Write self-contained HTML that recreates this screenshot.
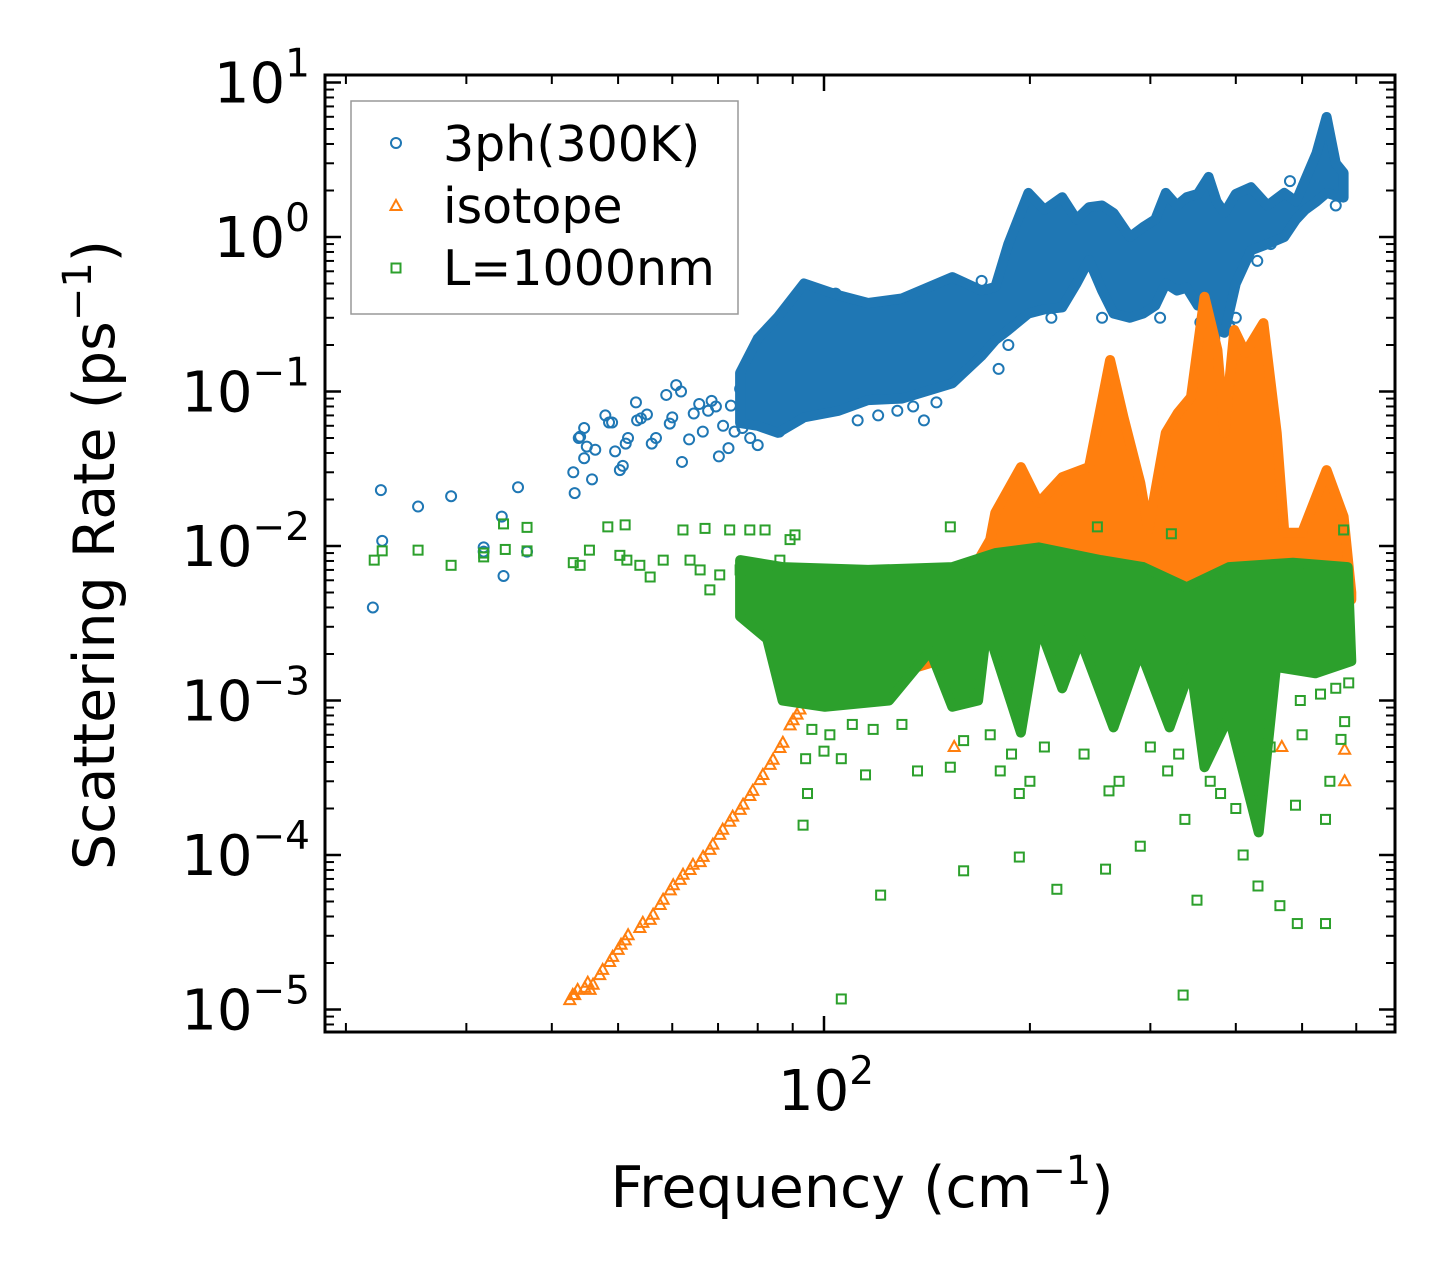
<!DOCTYPE html>
<html><head><meta charset="utf-8"><style>
body{margin:0;background:#fff;}
svg{display:block;font-family:"DejaVu Sans","Liberation Sans",sans-serif;}
</style></head><body>
<svg id="chart" width="1455" height="1282" viewBox="0 0 1455 1282" xmlns="http://www.w3.org/2000/svg">
<rect width="1455" height="1282" fill="#fff"/>
<g id="marks"></g>
<g id="axes"></g>
<text x="862" y="1207" font-size="57" text-anchor="middle">Frequency (cm<tspan dy="-23" font-size="40">−1</tspan><tspan dy="23">)</tspan></text>
<text transform="translate(114,555) rotate(-90)" font-size="57" text-anchor="middle">Scattering Rate (ps<tspan dy="-23" font-size="40">−1</tspan><tspan dy="23">)</tspan></text>
<g>
<rect x="351" y="101" width="387" height="213" fill="#fff" stroke="#999" stroke-width="1.5"/>
<circle cx="396" cy="143" r="5" fill="none" stroke="#1f77b4" stroke-width="2"/>
<text x="443" y="161" font-size="49">3ph(300K)</text>
<path d="M396,200 L401.5,210 L390.5,210 Z" fill="none" stroke="#ff7f0e" stroke-width="2"/>
<text x="443" y="223" font-size="49">isotope</text>
<rect x="391.5" y="263.5" width="9" height="9" fill="none" stroke="#2ca02c" stroke-width="2"/>
<text x="443" y="285" font-size="49">L=1000nm</text>
</g>
</svg>
<script>
const blueSparse=[[21.9,0.0040],[22.5,0.023],[22.6,0.0108],[25.5,0.018],[28.5,0.021],[31.8,0.0098],[31.8,0.0092],[33.8,0.0155],[34.0,0.0064],[35.7,0.024],[36.8,0.0092],[43.0,0.030],[43.2,0.022],[43.8,0.050],[44.0,0.051],[44.6,0.058],[44.6,0.037],[45,0.044],[45.8,0.027],[46.3,0.042],[47.9,0.070],[48.5,0.063],[49.0,0.063],[49.5,0.041],[50.3,0.031],[50.8,0.033],[51.3,0.046],[51.7,0.050],[53.1,0.085],[53.3,0.065],[54,0.067],[55.1,0.071],[56.0,0.046],[56.8,0.05],[58.8,0.095],[59.5,0.062],[60,0.068],[60.8,0.11],[61.8,0.10],[62,0.035],[63.5,0.049],[64.5,0.072],[65.7,0.083],[66.5,0.055],[67.7,0.075],[68.5,0.087],[69.5,0.08],[70.2,0.038],[71.2,0.060],[72.5,0.043],[73.1,0.081],[75.4,0.104],[76.5,0.12],[77.2,0.12],[78.5,0.09],[79.8,0.115],[82,0.13],[83,0.17],[84.2,0.18],[85,0.19],[86.5,0.29],[87.5,0.28],[88,0.16],[89.8,0.10],
[74,0.055],[76,0.058],[78,0.05],[80,0.045],[82,0.06],[86,0.055],[90,0.26],[92,0.35],[96,0.45],[100,0.44],[104,0.43],[108,0.3],[112,0.065],[120,0.07],[128,0.075],[135,0.08],[140,0.065],[146,0.085],[150,0.42],[160,0.5],[170,0.52],[180,0.14],[186,0.2],[192,0.8],[196,1.2],[205,0.38],[215,0.3],[230,0.55],[240,1.4],[255,0.3],[275,0.45],[300,0.42],[310,0.3],[330,0.6],[355,0.28],[372,0.22],[392,0.26],[400,0.3],[430,0.7],[450,0.9],[480,2.3],[520,2.6],[560,1.6]];
const blueBandFreq=[75.4,80,85.6,93.5,105,116,130,154,170,178,186,199,210,223,234,244,255,265,280,293,305,316,328,339,352,365,375,385,400,421,445,471,490,505,525,543,560,575];
const blueBandUpper=[0.132,0.22,0.303,0.50,0.42,0.374,0.4,0.55,0.45,0.475,0.9,1.93,1.5,1.81,1.3,1.56,1.6,1.43,1.0,1.16,1.3,1.93,1.6,1.81,1.9,2.45,1.7,1.43,1.9,2.1,1.6,1.93,1.7,2.34,3.5,5.98,3.0,2.6];
const blueBandLower=[0.0625,0.06,0.054,0.068,0.075,0.088,0.09,0.113,0.17,0.215,0.25,0.32,0.34,0.35,0.5,0.71,0.45,0.32,0.3,0.32,0.36,0.50,0.45,0.47,0.36,0.35,0.25,0.24,0.5,0.82,0.9,1.0,1.3,1.50,1.7,1.93,1.85,1.8];
const isoLine=[[42.5,1.15e-5],[43.2,1.24e-5],[44.7,1.38e-5],[45.5,1.34e-5],[47.0,1.67e-5],[48.6,2.03e-5],[50.0,2.43e-5],[51.2,2.8e-5],[53.8,3.37e-5],[55.7,3.8e-5],[57.6,4.75e-5],[59.6,5.9e-5],[61.6,6.9e-5],[63.7,8.0e-5],[65.9,9.0e-5],[68.1,1.08e-4],[70.4,1.35e-4],[72.8,1.64e-4],[75.4,1.96e-4],[77.9,2.41e-4],[80.6,3.05e-4],[83.4,3.83e-4],[86.2,4.93e-4],[89.2,6.9e-4],[91.3,8.1e-4]];
const isoTopFreq=[91.3,93.5,102,122,144,165,175,178,194,206,223,244,262,274,290,298,316,329,344,360,376,385,398,413,439,459,471,500,543,575,590];
const isoTop=[0.001,0.0025,0.005,0.0045,0.0045,0.007,0.011,0.0164,0.0324,0.0190,0.0279,0.0324,0.16,0.0685,0.0256,0.0127,0.054,0.0727,0.092,0.41,0.186,0.054,0.25,0.178,0.277,0.054,0.0122,0.0122,0.031,0.0155,0.005];
const isoBotFreq=[91.3,110,134,164,188,251,290,325,451,590];
const isoBot=[0.001,0.0012,0.0016,0.0021,0.0033,0.0029,0.0045,0.0025,0.0025,0.0045];
const isoSparse=[[577,4.8e-4],[577,3.0e-4],[467,5.0e-4],[155,5.0e-4]];
const greenTopFreq=[75.4,87,116,154,178,206,254,293,339,391,485,583];
const greenTop=[0.0081,0.0073,0.0070,0.0073,0.0090,0.0098,0.0081,0.0073,0.0054,0.0073,0.0078,0.0073];
const greenBotFreq=[75.4,82.6,87,100.3,124.5,143,154,168,173,194,206,223,237,265,290,320,344,360,391,432,458,523,590];
const greenBot=[0.0035,0.0025,0.001,9.1e-4,0.001,0.0021,9.1e-4,0.001,0.003,6.2e-4,0.0031,0.0012,0.0025,6.7e-4,0.0021,6.7e-4,0.00165,3.7e-4,7.9e-4,1.4e-4,0.00165,0.0015,0.0018];
const greenSparse=[[22.0,0.0081],[22.6,0.0093],[25.5,0.0094],[28.5,0.0075],[31.8,0.009],[31.8,0.0085],[34.0,0.0139],[34.2,0.0095],[36.8,0.0132],[36.8,0.0093],[43,0.0078],[44,0.0075],[45.4,0.0094],[48.3,0.0133],[51.2,0.0137],[50.3,0.0087],[51.5,0.0081],[53.8,0.0075],[55.7,0.0063],[58.2,0.0081],[62.2,0.0127],[63.7,0.0081],[65.9,0.007],[67,0.013],[68.1,0.0052],[70.4,0.0065],[72.8,0.0127],[75.4,0.007],[77.9,0.0127],[80.6,0.0045],[82,0.0127],[83.4,0.0034],[86.2,0.0081],[89.2,0.011],[90.7,0.0118],[92.2,0.0045],[93.2,1.56e-4],[106,1.17e-5],[121,5.5e-5],[160,7.9e-5],[193,9.7e-5],[219,6.0e-5],[258,8.1e-5],[290,1.14e-4],[351,5.1e-5],[335,1.24e-5],[431,6.3e-5],[464,4.7e-5],[492,3.6e-5],[541,3.6e-5],[549,3.0e-4],[541,1.7e-4],[489,2.1e-4],[449,5e-4],[367,3e-4],[337,1.7e-4],[318,3.5e-4],[270,3.0e-4],[261,2.6e-4],[200,3e-4],[193,2.5e-4],[181,3.5e-4],[153,3.7e-4],[137,3.5e-4],[115,3.3e-4],[106,4.2e-4],[100,4.7e-4],[94,4.2e-4],[94.6,2.5e-4],[570,5.6e-4],[577,7.3e-4],[532,1.1e-3],[497,1.0e-3],[153,0.0133],[251,0.0133],[322,0.012],[575,0.0127],
[96,6.5e-4],[102,6e-4],[110,7e-4],[118,6.5e-4],[130,7e-4],[160,5.5e-4],[175,6e-4],[188,4.5e-4],[210,5e-4],[240,4.5e-4],[300,5e-4],[330,4.5e-4],[380,2.5e-4],[400,2e-4],[410,1e-4],[500,6e-4],[560,1.2e-3],[585,1.3e-3]];
const xMinorTicks=[20,30,40,50,60,70,80,90,200,300,400,500,600];
const xMajorTicks=[100];
const yMajorExp=[-5,-4,-3,-2,-1,0,1];

const NS='http://www.w3.org/2000/svg';
const X0=325,X1=1395,Y0=75,Y1=1032;
function X(f){return 824+684*(Math.log10(f)-2);}
function Y(r){return 237-154.5*Math.log10(r);}
const marks=document.getElementById('marks');
const axes=document.getElementById('axes');
function mk(tag,attrs,parent){const e=document.createElementNS(NS,tag);for(const k in attrs)e.setAttribute(k,attrs[k]);parent.appendChild(e);return e;}
const clip=mk('clipPath',{id:'pc'},marks);mk('rect',{x:X0,y:Y0,width:X1-X0,height:Y1-Y0},clip);
marks.setAttribute('clip-path','url(#pc)');
function band(fu,u,fl,l,color,name){
  const pts=[];
  fu.forEach((f,i)=>pts.push(X(f).toFixed(1)+','+Y(u[i]).toFixed(1)));
  for(let i=fl.length-1;i>=0;i--)pts.push(X(fl[i]).toFixed(1)+','+Y(l[i]).toFixed(1));
  const p=mk('polygon',{points:pts.join(' '),fill:color,stroke:color,'stroke-width':10,'stroke-linejoin':'round'},marks);
  
  
}
function circ(f,r){const c=mk('circle',{cx:X(f),cy:Y(r),r:5,fill:'none',stroke:'#1f77b4','stroke-width':2},marks);
  
  }
function tri(f,r){const x=X(f),y=Y(r);const t=mk('path',{d:`M${x},${y-6} L${x+5.5},${y+4} L${x-5.5},${y+4} Z`,fill:'none',stroke:'#ff7f0e','stroke-width':2},marks);
  
  }
function sq(f,r){const s=mk('rect',{x:X(f)-4.5,y:Y(r)-4.5,width:9,height:9,fill:'none',stroke:'#2ca02c','stroke-width':2},marks);
  
  }

blueSparse.forEach(p=>circ(p[0],p[1]));
band(blueBandFreq,blueBandUpper,blueBandFreq,blueBandLower,'#1f77b4','3ph-dense-band');
band(isoTopFreq,isoTop,isoBotFreq,isoBot,'#ff7f0e','isotope-dense-band');
isoLine.forEach(p=>{tri(p[0],p[1]);tri(p[0]*1.01,p[1]*1.08);});
isoSparse.forEach(p=>tri(p[0],p[1]));
band(greenTopFreq,greenTop,greenBotFreq,greenBot,'#2ca02c','boundary-dense-band');
greenSparse.forEach(p=>sq(p[0],p[1]));

const fr=mk('rect',{x:X0,y:Y0,width:X1-X0,height:Y1-Y0,fill:'none',stroke:'#000','stroke-width':3},axes);


function tick(x1,y1,x2,y2,w){mk('line',{x1,y1,x2,y2,stroke:'#000','stroke-width':w},axes);}
xMinorTicks.forEach(f=>{const x=X(f);tick(x,Y1,x,Y1-9,2);tick(x,Y0,x,Y0+9,2);});
xMajorTicks.forEach(f=>{const x=X(f);tick(x,Y1,x,Y1-16,2.5);tick(x,Y0,x,Y0+16,2.5);
  const t=mk('text',{x:x+2,y:1110,'font-size':56,'text-anchor':'middle'},axes);
  
  
  t.innerHTML='10<tspan dy="-26" font-size="39">2</tspan>';});
yMajorExp.forEach(e=>{const y=Y(Math.pow(10,e));tick(X0,y,X0+16,y,2.5);tick(X1,y,X1-16,y,2.5);
  const t=mk('text',{x:310,y:y+20,'font-size':56,'text-anchor':'end'},axes);
  
  
  t.innerHTML='10<tspan dy="-26" font-size="39">'+(e<0?'−'+(-e):e)+'</tspan>';
  for(let m=2;m<=9;m++){const yy=Y(m*Math.pow(10,e));if(yy>Y0&&yy<Y1){tick(X0,yy,X0+9,yy,2);tick(X1,yy,X1-9,yy,2);}}
});
[8e-6,9e-6].forEach(v=>{const yy=Y(v);tick(X0,yy,X0+9,yy,2);tick(X1,yy,X1-9,yy,2);});
</script>
</body></html>
